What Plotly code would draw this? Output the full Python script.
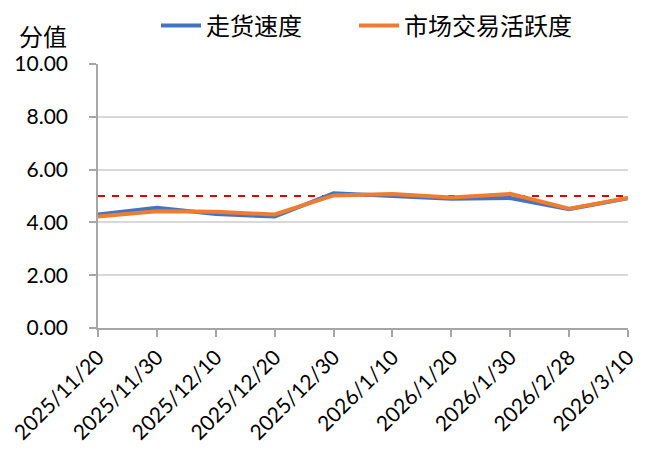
import plotly.graph_objects as go

dates = ["2025/11/20", "2025/11/30", "2025/12/10", "2025/12/20", "2025/12/30",
         "2026/1/10", "2026/1/20", "2026/1/30", "2026/2/28", "2026/3/10"]
speed = [4.30, 4.55, 4.32, 4.22, 5.10, 5.00, 4.90, 4.92, 4.50, 4.92]
activity = [4.22, 4.42, 4.40, 4.30, 5.02, 5.08, 4.94, 5.08, 4.52, 4.93]
baseline = [5.0] * len(dates)
y_ticks = [0, 2, 4, 6, 8, 10]

FONT = "Lato, 'Noto Sans CJK SC', sans-serif"
CJK = "'Noto Sans CJK SC', sans-serif"
AXIS = "#A6A6A6"

fig = go.Figure()
fig.add_trace(go.Scatter(x=dates, y=baseline, mode="lines", showlegend=False,
                         line=dict(color="#E00000", width=2, dash="7px,7px"), hoverinfo="skip"))
fig.add_trace(go.Scatter(x=dates, y=speed, mode="lines", name="走货速度", legend="legend",
                         line=dict(color="#4472C4", width=4)))
fig.add_trace(go.Scatter(x=dates, y=activity, mode="lines", name="市场交易活跃度", legend="legend2",
                         line=dict(color="#ED7D31", width=4)))

leg_common = dict(orientation="h", xanchor="left", y=1 - 18 / 448, yanchor="middle",
                  yref="container", font=dict(size=24, family=CJK), itemwidth=40,
                  bgcolor="rgba(0,0,0,0)")

# page body has an 8px margin; size the figure so the plot sits where the reference has it
fig.update_layout(
    width=654, height=448,
    margin=dict(l=90, r=34, t=56, b=128, autoexpand=False),
    paper_bgcolor="white", plot_bgcolor="white",
    font=dict(family=FONT, size=21, color="#000000"),
    legend=dict(x=58 / 530, **leg_common),
    legend2=dict(x=256 / 530, **leg_common),
    showlegend=True,
)
fig.update_xaxes(type="category", range=[0, 9], showgrid=False, automargin=False,
                 showline=True, linecolor=AXIS, linewidth=1.5,
                 ticks="outside", ticklen=7, tickcolor=AXIS, tickwidth=1.5,
                 tickangle=-45, tickfont=dict(size=21))
fig.update_yaxes(range=[0, 10], tickvals=y_ticks, tickformat=".2f", automargin=False,
                 showgrid=True, gridcolor="#D9D9D9", gridwidth=1.5,
                 showline=True, linecolor=AXIS, linewidth=1.5,
                 ticks="outside", ticklen=7, tickcolor=AXIS, tickwidth=1.5,
                 ticklabelstandoff=17,
                 zeroline=False, tickfont=dict(size=21))
fig.add_annotation(text="分值", xref="paper", yref="paper", x=-55 / 530, y=1.0,
                   xanchor="center", yanchor="middle", yshift=29, showarrow=False,
                   font=dict(size=24, family=CJK))

fig.write_html("out.html")
